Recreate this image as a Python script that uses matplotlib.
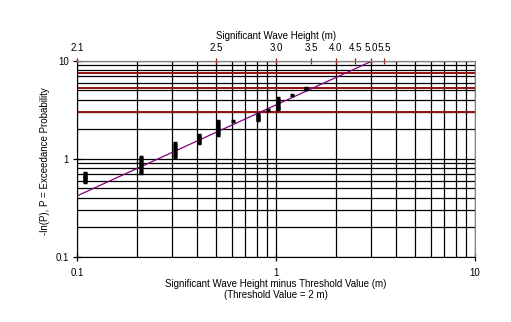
import numpy as np
import matplotlib.pyplot as plt
from matplotlib.ticker import FixedLocator, NullFormatter, NullLocator

plt.rcParams['font.family'] = ['Liberation Sans', 'DejaVu Sans']

# observed storm peaks: Hs minus threshold (m) and -ln(exceedance probability)
hs_excess = ([0.11] * 8 + [0.21] * 9 + [0.31] * 8 + [0.41] * 7 + [0.51] * 8
             + [0.61] + [0.81] * 5 + [0.91] + [1.02] * 7 + [1.21] + [1.42] * 2)
neg_ln_p = [0.58, 0.60, 0.62, 0.64, 0.66, 0.68, 0.70, 0.72,
            0.72, 0.76, 0.80, 0.84, 0.88, 0.92, 0.96, 1.00, 1.05,
            1.04, 1.09, 1.14, 1.20, 1.26, 1.32, 1.38, 1.45,
            1.45, 1.50, 1.55, 1.60, 1.65, 1.70, 1.75,
            1.75, 1.83, 1.92, 2.00, 2.10, 2.20, 2.32, 2.45,
            2.42,
            2.50, 2.58, 2.67, 2.76, 2.85,
            3.15,
            3.20, 3.35, 3.50, 3.65, 3.82, 4.00, 4.15,
            4.55,
            5.15, 5.30]

# fitted straight line on log-log axes (end points)
fit_x = [0.1, 3.04]
fit_y = [0.42, 10.0]

# exceedance probabilities marked with red lines
p_levels = [0.05, 0.005, 0.0005]

threshold = 2.0
top_hs = [2.1, 2.5, 3.0, 3.5, 4.0, 4.5, 5.0, 5.5]
top_labels = ["2.1", "2.5", "3.0", "3.5", "4.0", "4.5", "5.0", "5.5"]

fig = plt.figure(figsize=(5.11, 3.22), dpi=100)
ax = fig.add_axes([0.1507, 0.2019, 0.7788, 0.6087])

ax.set_xscale('log')
ax.set_yscale('log')
ax.set_xlim(0.1, 10)
ax.set_ylim(0.1, 10)

ax.grid(which='both', color='black', lw=0.9)
ax.set_axisbelow(True)
for p in p_levels:
    ax.axhline(-np.log(p), color='#9a1010', lw=1.4, zorder=2)

ax.plot(fit_x, fit_y, color='#800080', lw=0.9, zorder=3)
ax.plot(hs_excess, neg_ln_p, ls='none', marker='_', ms=3.5, mew=2.5,
        color='black', zorder=4)

ax.xaxis.set_major_locator(FixedLocator([0.1, 1, 10]))
ax.yaxis.set_major_locator(FixedLocator([0.1, 1, 10]))
ax.set_xticklabels(["0.1", "1", "10"])
ax.set_yticklabels(["0.1", "1", "10"])
ax.tick_params(which='major', direction='inout', length=6, width=0.9,
               labelsize=7, pad=3)
ax.tick_params(axis='x', which='major', pad=5)
ax.tick_params(which='minor', length=0)
ax.xaxis.set_minor_formatter(NullFormatter())
ax.yaxis.set_minor_formatter(NullFormatter())

for s in ['top', 'right']:
    ax.spines[s].set_color('#808080')
for s in ['left', 'bottom']:
    ax.spines[s].set_color('black')

ax.set_xlabel("Significant Wave Height minus Threshold Value (m)\n(Threshold Value = 2 m)",
              fontsize=7, labelpad=1, linespacing=1.05)
ax.set_ylabel("-ln(P), P = Exceedance Probability", fontsize=7)
ax.yaxis.set_label_coords(-0.068, 0.49)

# top axis in absolute wave height
ax2 = ax.twiny()
ax2.set_xscale('log')
ax2.set_xlim(ax.get_xlim())
ax2.xaxis.set_major_locator(FixedLocator([h - threshold for h in top_hs]))
ax2.xaxis.set_minor_locator(NullLocator())
ax2.set_xticklabels(top_labels)
ax2.tick_params(axis='x', direction='inout', length=5, width=0.9,
                color='#9a1010', labelcolor='black', labelsize=7, pad=3)
for s in ['left', 'right', 'bottom']:
    ax2.spines[s].set_visible(False)
ax2.spines['top'].set_color('#808080')
ax2.set_xlabel("Significant Wave Height (m)", fontsize=7, labelpad=3)

fig.savefig("out.png", dpi=100)
